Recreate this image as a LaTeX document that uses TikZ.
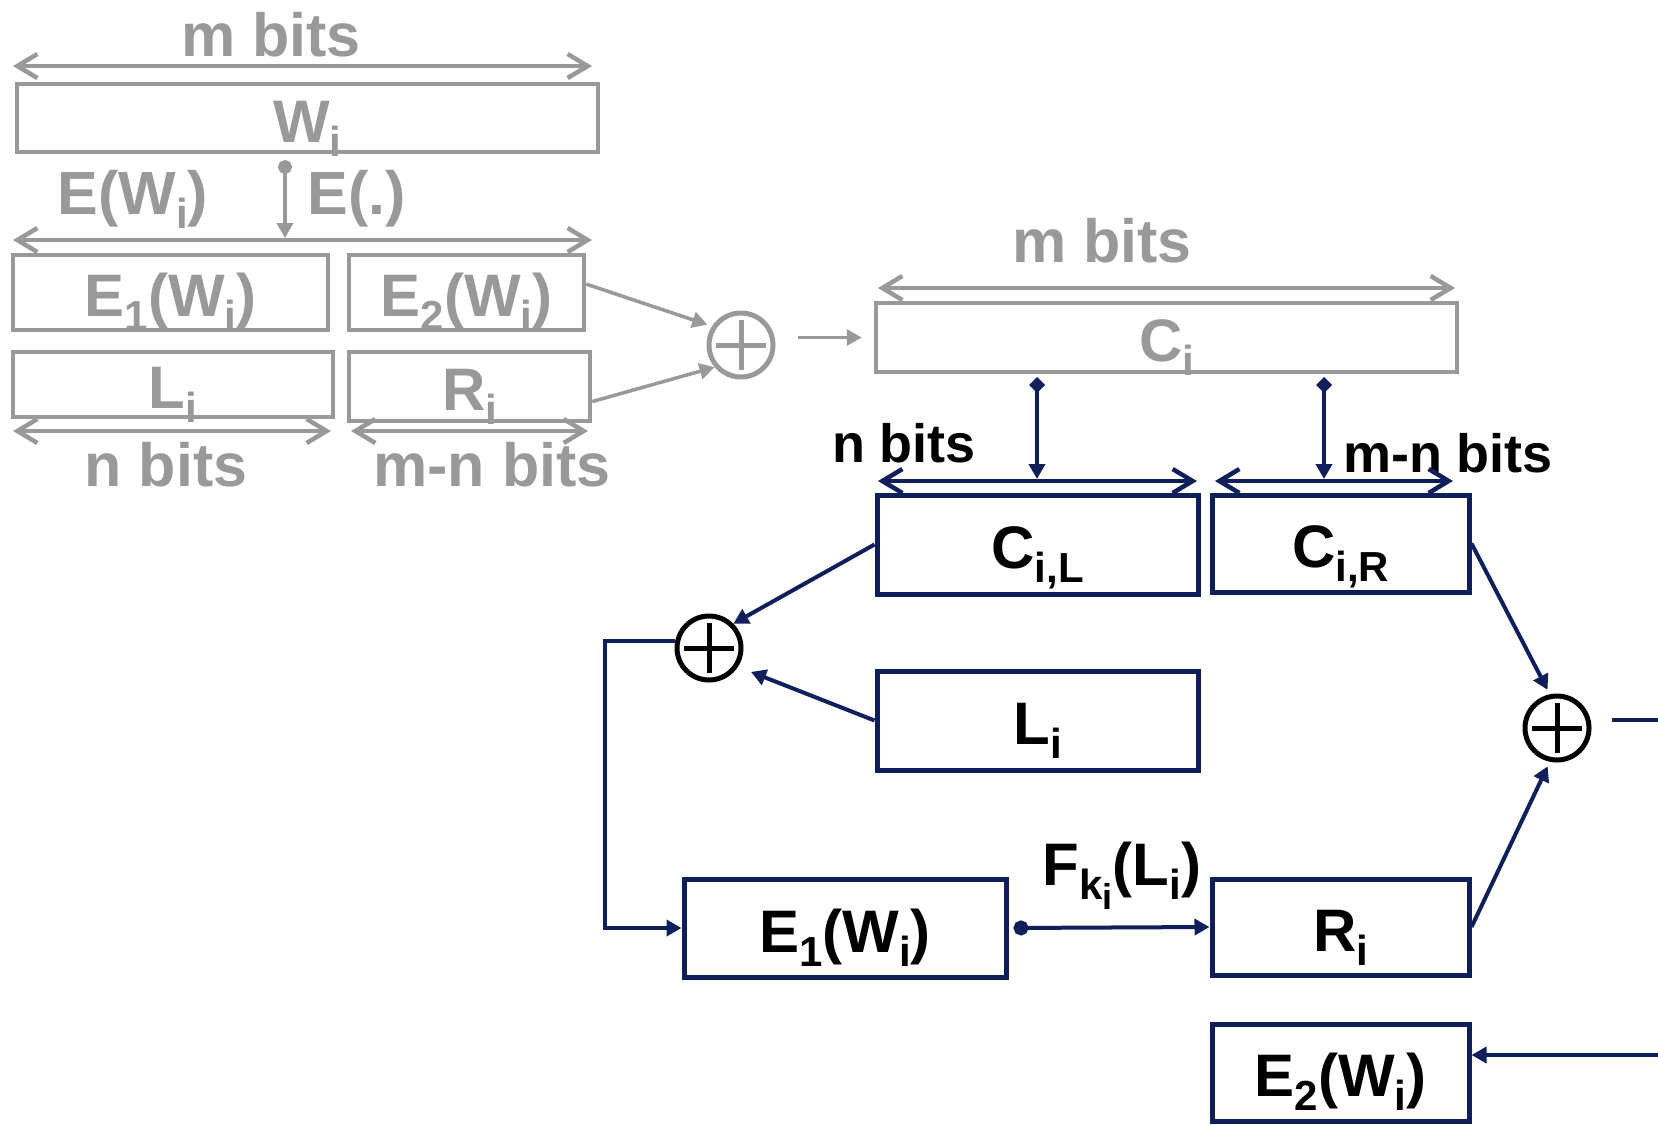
\documentclass[tikz,border=0pt]{standalone}
\usepackage{fontspec}
\setmainfont{Liberation Sans}
\usetikzlibrary{arrows.meta}

\definecolor{fadegray}{HTML}{999999}
\definecolor{darknavy}{HTML}{0F1F5C}
\newcommand\bigbf{\fontsize{60}{66}\selectfont\bfseries}
\newcommand\labbf{\fontsize{54}{60}\selectfont\bfseries}
\newcommand\lowsub[1]{\raisebox{-14pt}{\fontsize{42}{42}\selectfont #1}}
\newcommand\lowsubsub[1]{\raisebox{-10pt}{\fontsize{36}{36}\selectfont #1}}

\begin{document}
\begin{tikzpicture}[x=1pt,y=-1pt,
	gbox/.style={draw=fadegray,line width=4.5pt,inner sep=0pt,text=fadegray,font=\bigbf,text height=48pt,text depth=0pt},
	nbox/.style={draw=darknavy,line width=5pt,inner sep=0pt,font=\bigbf,text height=48pt,text depth=0pt},
	xorsym/.style={circle,draw=#1,line width=5pt,minimum size=64pt,inner sep=0pt,
		path picture={\draw[#1,line width=5pt] ([xshift=-25pt]path picture bounding box.center) -- ([xshift=25pt]path picture bounding box.center)
			([yshift=-25pt]path picture bounding box.center) -- ([yshift=25pt]path picture bounding box.center);}},
	bitspan/.style={line width=4.5pt,{Straight Barb[length=20pt,width=24pt]}-{Straight Barb[length=20pt,width=24pt]}},
	glink/.style={fadegray,line width=3.5pt,-{Triangle[length=15pt,width=16pt]}},
	gdotlink/.style={glink,{Circle[length=14pt]}-{Triangle[length=15pt,width=16pt]}},
	nlink/.style={darknavy,line width=4pt,-{Triangle[length=15pt,width=16pt]}},
	dotlink/.style={nlink,{Circle[length=15pt]}-{Triangle[length=15pt,width=16pt]}},
	diamlink/.style={nlink,{Diamond[length=16pt,width=16pt]}-{Triangle[length=15pt,width=16pt]}},
	glabel/.style={text=fadegray,font=\fontsize{61}{66}\selectfont\bfseries,inner sep=0pt,anchor=base},
	nlabel/.style={font=\labbf,inner sep=0pt,anchor=base}]
	\useasboundingbox (0,0) rectangle (1658,1125);

	% The faded encoding part
	\coordinate (mL) at (13,66);
	\coordinate (mR) at (592,66);
	\coordinate (eL) at (13,240);
	\coordinate (eR) at (592,240);
	\coordinate (nL) at (13,431);
	\coordinate (nR) at (331,431);
	\coordinate (mnL) at (351,431);
	\coordinate (mnR) at (588,431);
	\coordinate (dotW) at (285,160);
	\coordinate (dotE) at (285,238);
	\coordinate (cL) at (878,288);
	\coordinate (cR) at (1455,288);

	\node[glabel] (mtop) at (271,56) {m bits};
	\draw[bitspan,fadegray] (mL) -- (mR);
	\node[gbox,minimum width=581pt,minimum height=68pt] (Wg) at (307.5,118) {W\lowsub{i}};
	\draw[gdotlink] (dotW) -- (dotE);
	\node[glabel] (EW) at (133,214) {E(W\lowsub{i})};
	\node[glabel] (Edot) at (357,214) {E(.)};
	\draw[bitspan,fadegray] (eL) -- (eR);
	\node[gbox,minimum width=315pt,minimum height=75pt] (E1g) at (170.5,292.5) {E\lowsub{1}(W\lowsub{i})};
	\node[gbox,minimum width=235pt,minimum height=75pt] (E2g) at (466.5,292.5) {E\lowsub{2}(W\lowsub{i})};
	\node[gbox,minimum width=320pt,minimum height=65pt] (Lg) at (173,384.5) {L\lowsub{i}};
	\node[gbox,minimum width=241pt,minimum height=69pt] (Rg) at (469.5,386.5) {R\lowsub{i}};
	\draw[bitspan,fadegray] (nL) -- (nR);
	\draw[bitspan,fadegray] (mnL) -- (mnR);
	\node[glabel] (nb) at (166,486) {n bits};
	\node[glabel] (mnb) at (492,486) {m-n bits};

	\node[glabel] (mc) at (1102,262) {m bits};
	\draw[bitspan,fadegray] (cL) -- (cR);
	\node[gbox,minimum width=581pt,minimum height=69pt] (Cg) at (1166.5,337.5) {C\lowsub{i}};

	\node[xorsym=fadegray] (XORg) at (741,345) {};
	\draw[glink,shorten >=5pt] (E2g.4) -- (XORg.147);
	\draw[glink] (Rg.-7) -- (XORg.220);
	\draw[glink,shorten <=22pt,shorten >=12pt] (XORg.east |- Cg.west) -- (Cg.west);

	% The decoding part
	\coordinate (vLa) at (1037,377);
	\coordinate (vLb) at (1037,479);
	\coordinate (vRa) at (1324,377);
	\coordinate (vRb) at (1324,479);
	\coordinate (cnL) at (878,481);
	\coordinate (cnR) at (1197,481);
	\coordinate (cmL) at (1215,481);
	\coordinate (cmR) at (1453,481);
	\coordinate (outR) at (1658,720);
	\coordinate (inE2) at (1658,1055);

	\draw[diamlink] (vLa) -- (vLb);
	\draw[diamlink] (vRa) -- (vRb);
	\node[nlabel] (nbn) at (904,462) {n bits};
	\node[nlabel] (mnbn) at (1448,472) {m-n bits};
	\draw[bitspan,darknavy] (cnL) -- (cnR);
	\draw[bitspan,darknavy] (cmL) -- (cmR);

	\node[nbox,minimum width=321pt,minimum height=99pt] (CL) at (1037.5,544.5) {C\lowsub{i,L}};
	\node[nbox,minimum width=257pt,minimum height=97pt] (CR) at (1340.5,543.5) {C\lowsub{i,R}};
	\node[nbox,minimum width=321pt,minimum height=99pt] (Ln) at (1037.5,720.5) {L\lowsub{i}};
	\node[nbox,minimum width=322pt,minimum height=98pt] (E1n) at (845,928) {E\lowsub{1}(W\lowsub{i})};
	\node[nbox,minimum width=257pt,minimum height=96pt] (Rn) at (1340.5,927) {R\lowsub{i}};
	\node[nbox,minimum width=257pt,minimum height=97pt] (E2n) at (1340.5,1072.5) {E\lowsub{2}(W\lowsub{i})};

	\node[xorsym=black] (XORa) at (709,648) {};
	\node[xorsym=black] (XORb) at (1557,728) {};

	\draw[nlink] (CL.west) -- (XORa.45);
	\draw[nlink,shorten >=14pt] (Ln.west) -- (XORa.-33);
	\draw[nlink] (XORa.168) -- ++(-70,0) |- (E1n.west);
	\draw[dotlink,shorten <=5pt] (E1n.east) -- (Rn.west);
	\node[nlabel,font=\fontsize{60}{66}\selectfont\bfseries] (Fk) at (1122,885) {F\lowsub{k\lowsubsub{i}}(L\lowsub{i})};
	\draw[nlink,shorten >=5pt] (CR.east) -- (XORb.102);
	\draw[nlink,shorten >=5pt] (Rn.east) -- (XORb.-102);
	\draw[darknavy,line width=4pt,shorten <=20pt] (XORb.east |- outR) -- (outR);
	\draw[nlink] (inE2) -- (E2n.east |- inE2);
\end{tikzpicture}
\end{document}
